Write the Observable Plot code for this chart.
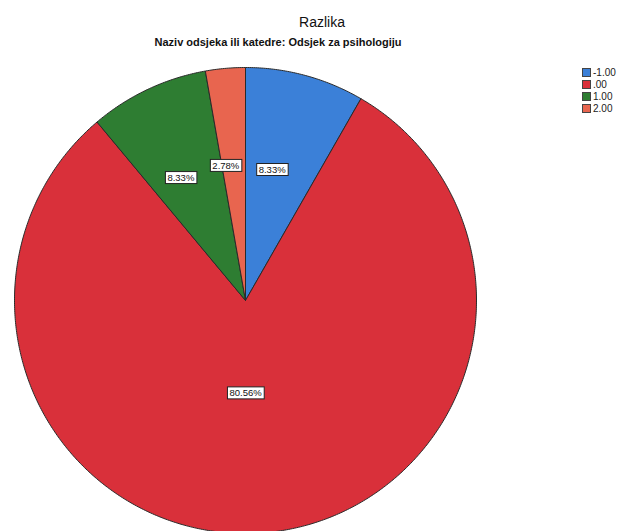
<!DOCTYPE html>
<html><head><meta charset="utf-8">
<script src="https://cdn.jsdelivr.net/npm/d3@7"></script>
<script src="https://cdn.jsdelivr.net/npm/@observablehq/plot@0.6"></script>
<style>
body{margin:0;background:#fff;font-family:"Liberation Sans",Arial,sans-serif;overflow:hidden}
#wrap{position:relative;width:631px;height:531px;overflow:hidden}
#head{position:relative;height:60px}
#title{position:absolute;left:222px;width:200px;top:14px;text-align:center;font-size:14px;color:#111}
#subtitle{position:absolute;left:78px;width:400px;top:36px;text-align:center;font-size:11px;font-weight:bold;color:#111}
#legend{position:absolute;left:582px;top:66px;font-size:10px;color:#222}
#legend .row{height:12px;display:flex;align-items:center}
#legend .sw{width:7px;height:7px;border:1px solid #444;margin-right:2px}
</style></head>
<body>
<div id="wrap">
  <div id="head"><div id="title"></div><div id="subtitle"></div></div>
  <div id="chart"></div>
  <div id="legend"></div>
</div>
<script>
const titleText = "Razlika";
const subtitleText = "Naziv odsjeka ili katedre: Odsjek za psihologiju";
const categories = ["-1.00", ".00", "1.00", "2.00"];
const percents = [8.33, 80.56, 8.33, 2.78];
const percentLabels = ["8.33%", "80.56%", "8.33%", "2.78%"];
const colors = ["#3b80d8", "#d9303a", "#2e7d32", "#e8654f"];

document.getElementById("title").textContent = titleText;
document.getElementById("subtitle").textContent = subtitleText;

const total = d3.sum(percents);
const pts = [];
const labels = [];
let cum = 0;
categories.forEach((c, i) => {
  const a0 = cum / total * 2 * Math.PI;
  const a1 = (cum + percents[i]) / total * 2 * Math.PI;
  cum += percents[i];
  pts.push({cat: c, x: 0, y: 0});
  const n = Math.max(2, Math.ceil((a1 - a0) / (Math.PI / 360)));
  for (let k = 0; k <= n; k++) {
    const a = a0 + (a1 - a0) * k / n;
    pts.push({cat: c, x: Math.sin(a), y: Math.cos(a)});
  }
  pts.push({cat: c, x: 0, y: 0});
  const mid = (a0 + a1) / 2;
  const rf = percents[i] / total > 0.5 ? 0.4 : 0.58;
  labels.push({cat: c, text: percentLabels[i], x: rf * Math.sin(mid), y: rf * Math.cos(mid)});
});

const plot = Plot.plot({
  width: 631, height: 471,
  marginTop: 0, marginBottom: 0, marginLeft: 0, marginRight: 0,
  x: {domain: [-1, 1], range: [14, 476], axis: null},
  y: {domain: [-1, 1], range: [473, 7], axis: null},
  color: {domain: categories, range: colors},
  style: {background: "transparent", overflow: "hidden"},
  marks: [
    Plot.line(pts, {x: "x", y: "y", z: "cat", fill: "cat", stroke: "#2a2a2a", strokeWidth: 1, curve: "linear", strokeLinejoin: "round"}),
    Plot.text(labels, {x: "x", y: "y", text: "text", dx: -8, fontSize: 9.5, fill: "#111", className: "lbl", fontFamily: "Liberation Sans, Arial, sans-serif"})
  ]
});
document.getElementById("chart").appendChild(plot);

plot.querySelectorAll("g.lbl text").forEach(t => {
  const b = t.getBBox();
  const r = document.createElementNS("http://www.w3.org/2000/svg", "rect");
  r.setAttribute("x", b.x - 2);
  r.setAttribute("y", b.y - 0.5);
  r.setAttribute("width", b.width + 4);
  r.setAttribute("height", b.height + 1);
  r.setAttribute("fill", "#fff");
  r.setAttribute("stroke", "#222");
  r.setAttribute("stroke-width", "1");
  const tr = t.getAttribute("transform");
  if (tr) r.setAttribute("transform", tr);
  t.parentNode.insertBefore(r, t);
});

const lg = d3.select("#legend");
categories.forEach((c, i) => {
  const row = lg.append("div").attr("class", "row");
  row.append("div").attr("class", "sw").style("background", colors[i]);
  row.append("span").text(c);
});
</script>
</body></html>
